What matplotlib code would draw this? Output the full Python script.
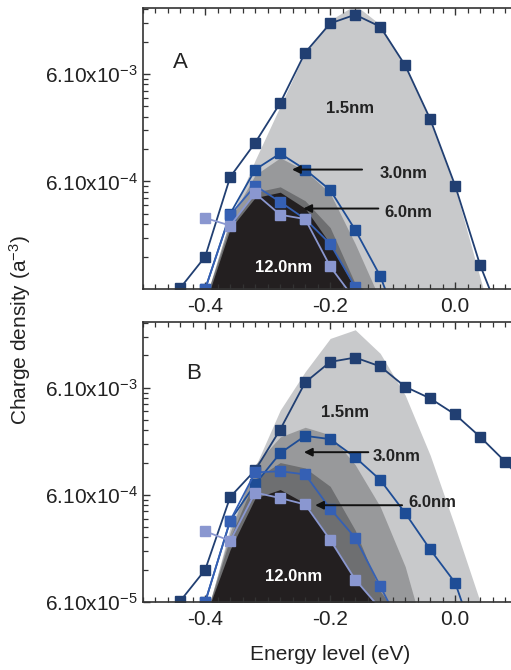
import matplotlib
matplotlib.use("Agg")
import matplotlib.pyplot as plt
from matplotlib.ticker import MultipleLocator, LogLocator, NullFormatter, FixedLocator
import numpy as np

plt.rcParams['font.family'] = ['Liberation Sans', 'DejaVu Sans']
plt.rcParams['mathtext.fontset'] = 'custom'
plt.rcParams['mathtext.rm'] = 'Liberation Sans'
plt.rcParams['mathtext.it'] = 'Liberation Sans:italic'
plt.rcParams['mathtext.bf'] = 'Liberation Sans:bold'

# energy grid (eV)
energy = [-0.44, -0.40, -0.36, -0.32, -0.28, -0.24, -0.20, -0.16, -0.12,
          -0.08, -0.04, 0.00, 0.04, 0.08, 0.12]

sizes = ["1.5nm", "3.0nm", "6.0nm", "12.0nm"]

# panel A : lines with markers
a_line_15 = [1.02e-5, 2.0e-5, 1.10e-4, 2.29e-4, 5.37e-4, 1.58e-3, 2.95e-3, 3.55e-3,
             2.75e-3, 1.20e-3, 3.80e-4, 9.12e-5, 1.66e-5, 4.3e-6]
a_line_30 = [1.0e-5, 5.01e-5, 1.29e-4, 1.82e-4, 1.29e-4, 8.32e-5, 3.55e-5, 1.32e-5, 3.2e-6]
a_line_60 = [1.0e-5, 4.90e-5, 9.12e-5, 6.46e-5, 4.47e-5, 2.63e-5, 1.05e-5, 2.5e-6]
a_line_120 = [4.57e-5, 3.89e-5, 7.76e-5, 4.90e-5, 4.47e-5, 1.62e-5, 7.9e-6]

# panel A : shaded areas
a_fill_15 = [1e-6, 6.6e-6, 4.47e-5, 1.58e-4, 5.01e-4, 1.58e-3, 3.16e-3, 4.37e-3,
             2.88e-3, 1.17e-3, 3.63e-4, 8.71e-5, 1.26e-5, 2.0e-6]
a_fill_30 = [1e-6, 7.9e-6, 4.47e-5, 1.15e-4, 1.66e-4, 1.26e-4, 7.76e-5, 2.63e-5,
             7.9e-6, 1e-6]
a_fill_60 = [1e-6, 7.9e-6, 3.98e-5, 7.94e-5, 8.91e-5, 6.61e-5, 3.72e-5, 1.12e-5,
             7.9e-6, 1e-6]
a_fill_120 = [1e-6, 7.2e-6, 3.63e-5, 7.08e-5, 7.94e-5, 5.62e-5, 2.63e-5, 1.0e-5,
              3.2e-6]

# panel B : lines with markers
b_line_15 = [1.02e-5, 2.0e-5, 9.55e-5, 1.70e-4, 4.07e-4, 1.12e-3, 1.74e-3, 1.91e-3,
             1.58e-3, 1.02e-3, 7.94e-4, 5.62e-4, 3.47e-4, 2.04e-4, 1.12e-4]
b_line_30 = [1.0e-5, 5.75e-5, 1.26e-4, 2.45e-4, 3.55e-4, 3.31e-4, 2.24e-4, 1.38e-4,
             6.76e-5, 3.09e-5, 1.51e-5, 3.2e-6]
b_line_60 = [1.0e-5, 5.75e-5, 1.62e-4, 1.66e-4, 1.55e-4, 7.41e-5, 3.98e-5, 1.41e-5, 4.9e-6]
b_line_120 = [4.57e-5, 3.72e-5, 1.05e-4, 9.33e-5, 8.13e-5, 3.80e-5, 1.62e-5, 8.7e-6]

# panel B : shaded areas
b_fill_15 = [1e-6, 6.6e-6, 5.01e-5, 1.82e-4, 6.17e-4, 1.41e-3, 2.88e-3, 3.47e-3,
             2.09e-3, 8.51e-4, 2.34e-4, 5.01e-5, 1.0e-5, 1e-6]
b_fill_30 = [1e-6, 7.1e-6, 4.47e-5, 1.91e-4, 3.47e-4, 4.27e-4, 3.63e-4, 1.91e-4,
             7.76e-5, 2.14e-5, 3.2e-6, 1e-6]
b_fill_60 = [1e-6, 7.1e-6, 3.98e-5, 1.41e-4, 2.0e-4, 1.78e-4, 1.20e-4, 4.68e-5,
             1.26e-5, 6.2e-6, 1e-6]
b_fill_120 = [1e-6, 7.2e-6, 3.09e-5, 9.33e-5, 1.12e-4, 8.32e-5, 3.80e-5, 1.62e-5,
              8.5e-6, 1e-6]

line_colors = ['#213f72', '#1e4d96', '#3560b4', '#8a97d0']
fill_colors = ['#c8c9cb', '#98999b', '#6e6f71', '#231f20']

# start index of each series in the energy grid
a_lines = [(0, a_line_15), (1, a_line_30), (1, a_line_60), (1, a_line_120)]
a_fills = [(0, a_fill_15), (0, a_fill_30), (0, a_fill_60), (0, a_fill_120)]
b_lines = [(0, b_line_15), (1, b_line_30), (1, b_line_60), (1, b_line_120)]
b_fills = [(0, b_fill_15), (0, b_fill_30), (0, b_fill_60), (0, b_fill_120)]

fig = plt.figure(figsize=(5.11, 6.70), dpi=100)
W, H = 511.0, 670.0
axA = fig.add_axes([142.7 / W, 1 - 289 / H, 375 / W, 281 / H])
axB = fig.add_axes([142.7 / W, 1 - 602 / H, 375 / W, 280 / H])


def draw(ax, fills, lines):
    for (i0, vals), c in zip(fills, fill_colors):
        xs = energy[i0:i0 + len(vals)]
        ax.fill_between(xs, vals, 1e-7, color=c, lw=0)
    for (i0, vals), c in zip(lines, line_colors):
        xs = energy[i0:i0 + len(vals)]
        ax.plot(xs, vals, '-s', color=c, lw=1.3, ms=6.5, mec=c, mfc=c)
    ax.set_yscale('log')
    ax.set_xlim(-0.5, 0.1)
    ax.set_ylim(1e-5, 4.1e-3)
    ax.xaxis.set_major_locator(FixedLocator([-0.4, -0.2, 0.0]))
    ax.xaxis.set_minor_locator(MultipleLocator(0.02))
    ax.yaxis.set_minor_locator(LogLocator(base=10, subs=np.arange(2, 10)))
    ax.yaxis.set_minor_formatter(NullFormatter())
    ax.tick_params(which='both', direction='in', top=True, right=True,
                   labelsize=15, colors='#333333', labelcolor='#222222')
    ax.tick_params(which='major', length=5, width=1)
    ax.tick_params(which='minor', length=3.5, width=0.9)
    for s in ax.spines.values():
        s.set_color('#333333')
        s.set_linewidth(1.2)


draw(axA, a_fills, a_lines)
draw(axB, b_fills, b_lines)

axA.set_yticks([1e-4, 1e-3])
axA.set_yticklabels(['6.10x10$^{-4}$', '6.10x10$^{-3}$'])
axB.set_yticks([1e-5, 1e-4, 1e-3])
axB.set_yticklabels(['6.10x10$^{-5}$', '6.10x10$^{-4}$', '6.10x10$^{-3}$'])
for ax in (axA, axB):
    ax.set_xticklabels(['-0.4', '-0.2', '0.0'])
    ax.tick_params(axis='x', pad=6)

lab = dict(fontsize=12, fontweight='bold', color='#222222', ha='center', va='center')
arr = dict(arrowstyle='-|>', color='#111111', lw=1.4, mutation_scale=12, shrinkA=0, shrinkB=0)

# panel A annotations
axA.text(-0.44, 1.27e-3, 'A', fontsize=16, ha='center', va='center', color='#222222')
axA.text(-0.168, 4.8e-4, sizes[0], **lab)
axA.text(-0.083, 1.19e-4, sizes[1], **lab)
axA.annotate('', xy=(-0.261, 1.29e-4), xytext=(-0.149, 1.29e-4), arrowprops=arr)
axA.text(-0.075, 5.1e-5, sizes[2], **lab)
axA.annotate('', xy=(-0.243, 5.6e-5), xytext=(-0.123, 5.6e-5), arrowprops=arr)
axA.text(-0.275, 1.58e-5, sizes[3], fontsize=12, fontweight='bold', color='white',
         ha='center', va='center')

# panel B annotations
axB.text(-0.419, 1.35e-3, 'B', fontsize=16, ha='center', va='center', color='#222222')
axB.text(-0.176, 5.9e-4, sizes[0], **lab)
axB.text(-0.094, 2.3e-4, sizes[1], **lab)
axB.annotate('', xy=(-0.242, 2.5e-4), xytext=(-0.139, 2.5e-4), arrowprops=arr)
axB.text(-0.037, 8.4e-5, sizes[2], **lab)
axB.annotate('', xy=(-0.224, 8.0e-5), xytext=(-0.085, 8.0e-5), arrowprops=arr)
axB.text(-0.259, 1.72e-5, sizes[3], fontsize=12, fontweight='bold', color='white',
         ha='center', va='center')

fig.text(20 / W, 1 - 330 / H, 'Charge density (a$^{-3}$)', rotation=90,
         fontsize=15, ha='center', va='center', color='#222222')
fig.text(330 / W, 1 - 655 / H, 'Energy level (eV)', fontsize=15,
         ha='center', va='center', color='#222222')

fig.savefig('out.png', dpi=100)
